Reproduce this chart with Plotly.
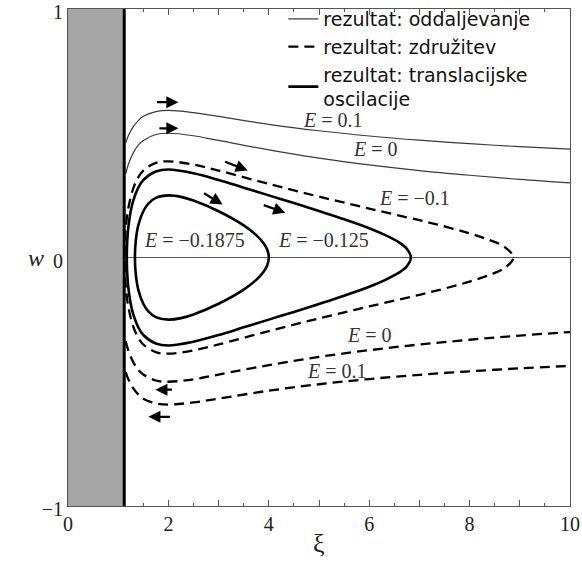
import plotly.graph_objects as go

# ---------------- data ----------------
WALL_XI = 1.12

# open trajectories (E = 0.1 and E = 0), xi samples
XI_OPEN = [1.15, 1.2, 1.3, 1.4, 1.5, 1.75, 2, 2.5, 3, 4, 5, 6, 7, 8, 9, 10]
W_E01_UP = [0.462, 0.489, 0.527, 0.551, 0.568, 0.587, 0.592, 0.583, 0.568, 0.536, 0.510, 0.489, 0.472, 0.458, 0.446, 0.436]
W_E01_DOWN = [-0.462, -0.489, -0.527, -0.551, -0.568, -0.587, -0.592, -0.583, -0.568, -0.536, -0.510, -0.489, -0.472, -0.458, -0.446, -0.436]
W_E0_UP = [0.337, 0.373, 0.421, 0.452, 0.471, 0.495, 0.500, 0.490, 0.471, 0.433, 0.400, 0.373, 0.350, 0.331, 0.314, 0.300]
W_E0_DOWN = [-0.337, -0.373, -0.421, -0.452, -0.471, -0.495, -0.500, -0.490, -0.471, -0.433, -0.400, -0.373, -0.350, -0.331, -0.314, -0.300]

# bound orbit E = -0.1875
XI_E01875 = [1.333, 1.35, 1.4, 1.5, 1.6, 1.75, 2, 2.25, 2.5, 3, 3.5, 3.75, 3.9, 3.97, 4.0,
             3.97, 3.9, 3.75, 3.5, 3, 2.5, 2.25, 2, 1.75, 1.6, 1.5, 1.4, 1.35, 1.333]
W_E01875 = [0, 0.067, 0.129, 0.186, 0.217, 0.240, 0.250, 0.244, 0.229, 0.186, 0.129, 0.090, 0.056, 0.031, 0,
            -0.031, -0.056, -0.090, -0.129, -0.186, -0.229, -0.244, -0.250, -0.240, -0.217, -0.186, -0.129, -0.067, 0]

# bound orbit E = -0.125
XI_E0125 = [1.172, 1.18, 1.2, 1.25, 1.3, 1.4, 1.5, 1.75, 2, 2.5, 3, 3.5, 4, 4.5, 5, 5.5, 6, 6.3, 6.6, 6.75, 6.83,
            6.75, 6.6, 6.3, 6, 5.5, 5, 4.5, 4, 3.5, 3, 2.5, 2, 1.75, 1.5, 1.4, 1.3, 1.25, 1.2, 1.18, 1.172]
W_E0125 = [0, 0.065, 0.118, 0.187, 0.229, 0.281, 0.312, 0.346, 0.354, 0.339, 0.312, 0.281, 0.250, 0.219, 0.187, 0.154, 0.118, 0.092, 0.060, 0.035, 0,
           -0.035, -0.060, -0.092, -0.118, -0.154, -0.187, -0.219, -0.250, -0.281, -0.312, -0.339, -0.354, -0.346, -0.312, -0.281, -0.229, -0.187, -0.118, -0.065, 0]

# merging orbit E = -0.1
XI_E010 = [1.127, 1.135, 1.15, 1.2, 1.3, 1.4, 1.5, 1.75, 2, 2.5, 3, 4, 5, 6, 7, 7.5, 8, 8.4, 8.7, 8.873,
           8.7, 8.4, 8, 7.5, 7, 6, 5, 4, 3, 2.5, 2, 1.75, 1.5, 1.4, 1.3, 1.2, 1.15, 1.135, 1.127]
W_E010 = [0, 0.069, 0.116, 0.197, 0.278, 0.323, 0.350, 0.381, 0.387, 0.374, 0.350, 0.296, 0.245, 0.197, 0.150, 0.125, 0.097, 0.070, 0.042, 0,
          -0.042, -0.070, -0.097, -0.125, -0.150, -0.197, -0.245, -0.296, -0.350, -0.374, -0.387, -0.381, -0.350, -0.323, -0.278, -0.197, -0.116, -0.069, 0]

# w = 0 line
XI_ZERO = [WALL_XI, 10]
W_ZERO = [0, 0]

# curve labels: text, xi, w
LABELS = [
    ("<i>E</i> = 0.1", 5.27, 0.552),
    ("<i>E</i> = 0", 6.13, 0.435),
    ("<i>E</i> = −0.1", 6.9, 0.24),
    ("<i>E</i> = −0.1875", 2.52, 0.07),
    ("<i>E</i> = −0.125", 5.09, 0.07),
    ("<i>E</i> = 0", 6.0, -0.31),
    ("<i>E</i> = 0.1", 5.35, -0.455),
]

# direction arrows: (xi_start, w_start, xi_end, w_end)
ARROWS = [
    (1.74, 0.625, 2.20, 0.625),
    (1.79, 0.520, 2.20, 0.520),
    (3.10, 0.388, 3.58, 0.350),
    (2.68, 0.262, 3.08, 0.213),
    (3.87, 0.213, 4.33, 0.180),
    (2.10, -0.532, 1.74, -0.532),
    (2.06, -0.641, 1.60, -0.641),
]

X_TICKS = [0, 1, 2, 3, 4, 5, 6, 7, 8, 9, 10]
X_TICKTEXT = ["0", "", "2", "", "4", "", "6", "", "8", "", "10"]
Y_TICKS = [-1, 0, 1]
Y_TICKTEXT = ["−1", "0", "1"]

# ---------------- figure ----------------
SERIF = "Liberation Serif, Times New Roman, serif"
SANS = "DejaVu Sans, Liberation Sans, Arial, sans-serif"

thin = dict(color="#3a3a3a", width=1.2)
dashed = dict(color="black", width=2.3, dash="10px,6px")
thick = dict(color="black", width=2.6)

fig = go.Figure()
fig.add_trace(go.Scatter(x=XI_ZERO, y=W_ZERO, mode="lines", line=dict(color="#555", width=1), showlegend=False, hoverinfo="skip"))
fig.add_trace(go.Scatter(x=XI_OPEN, y=W_E01_UP, mode="lines", line=thin, line_shape="spline",
                         name="rezultat: oddaljevanje", legendrank=1))
fig.add_trace(go.Scatter(x=XI_OPEN, y=W_E0_UP, mode="lines", line=thin, line_shape="spline", showlegend=False))
fig.add_trace(go.Scatter(x=XI_E010, y=W_E010, mode="lines", line=dashed, line_shape="spline",
                         name="rezultat: združitev", legendrank=2))
fig.add_trace(go.Scatter(x=XI_OPEN, y=W_E0_DOWN, mode="lines", line=dashed, line_shape="spline", showlegend=False))
fig.add_trace(go.Scatter(x=XI_OPEN, y=W_E01_DOWN, mode="lines", line=dashed, line_shape="spline", showlegend=False))
fig.add_trace(go.Scatter(x=XI_E0125, y=W_E0125, mode="lines", line=thick, line_shape="spline",
                         name="rezultat: translacijske<br>oscilacije", legendrank=3))
fig.add_trace(go.Scatter(x=XI_E01875, y=W_E01875, mode="lines", line=thick, line_shape="spline", showlegend=False))

# hatched wall region and wall
fig.add_shape(type="rect", xref="x", yref="y", x0=0, x1=WALL_XI, y0=-1, y1=1,
              fillcolor="#a6a6a6", line_width=0, layer="above")
fig.add_shape(type="line", xref="x", yref="y", x0=WALL_XI, x1=WALL_XI, y0=-1, y1=1,
              line=dict(color="black", width=3), layer="above")

for text, xv, yv in LABELS:
    fig.add_annotation(x=xv, y=yv, text=text, showarrow=False,
                       font=dict(family=SERIF, size=20, color="#333"))

for x0, y0, x1, y1 in ARROWS:
    fig.add_annotation(x=x1, y=y1, ax=x0, ay=y0, xref="x", yref="y", axref="x", ayref="y",
                       text="", showarrow=True, arrowhead=2, arrowsize=1.1, arrowwidth=2.2, arrowcolor="black")

fig.add_annotation(x=5, y=-0.108, xref="x", yref="paper", text="ξ", showarrow=False,
                   font=dict(family=SERIF, size=26, color="#222"))
fig.add_annotation(x=-0.083, y=0, xref="paper", yref="y", text="<i>w</i>", showarrow=False,
                   font=dict(family=SERIF, size=24, color="#222"))

fig.update_layout(
    width=582, height=576,
    margin=dict(l=68, r=12, t=9, b=70, autoexpand=False),
    paper_bgcolor="white", plot_bgcolor="white",
    showlegend=True,
    legend=dict(x=0.429, xanchor="left", y=1.018, yanchor="top", bgcolor="rgba(0,0,0,0)",
                font=dict(family=SANS, size=19, color="#111"), itemwidth=30, tracegroupgap=0),
    xaxis=dict(range=[0, 10], tickvals=X_TICKS, ticktext=X_TICKTEXT, ticks="inside", ticklen=6,
               tickcolor="#555", showline=True, linecolor="#555", linewidth=1, mirror="ticks",
               showgrid=False, zeroline=False, automargin=False, ticklabeloverflow="allow",
               minor=dict(tickvals=[1.5, 2.5, 3.5, 4.5, 5.5, 6.5, 7.5, 8.5, 9.5], ticks="inside",
                          ticklen=3, tickcolor="#555"),
               tickfont=dict(family=SERIF, size=20, color="#222")),
    yaxis=dict(range=[-1, 1], tickvals=Y_TICKS, ticktext=Y_TICKTEXT, ticks="inside", ticklen=3,
               tickcolor="#555", showline=True, linecolor="#555", linewidth=1, mirror="ticks",
               showgrid=False, zeroline=False, automargin=False, ticklabeloverflow="allow",
               ticklabelshift=3,
               tickfont=dict(family=SERIF, size=20, color="#222")),
)

fig.write_html("out.html", config={"displayModeBar": False},
               post_script="document.body.style.margin='0px';")
